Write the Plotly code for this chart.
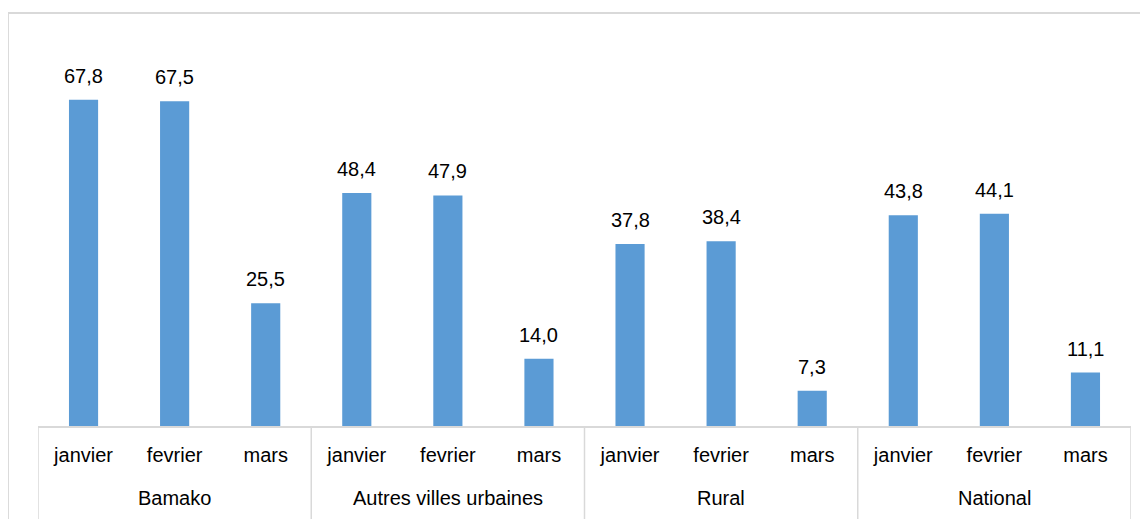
import plotly.graph_objects as go

regions = ["Bamako", "Autres villes urbaines", "Rural", "National"]
months = ["janvier", "fevrier", "mars"]
values = [67.8, 67.5, 25.5,
          48.4, 47.9, 14.0,
          37.8, 38.4, 7.3,
          43.8, 44.1, 11.1]

n_m = len(months)
pos = list(range(len(values)))
inner = [months[i % n_m] for i in pos]
labels = [f"{v:.1f}".replace(".", ",") for v in values]

font_family = "Liberation Sans Narrow, Arial Narrow, Liberation Sans, Arial, sans-serif"
grey = "#d9d9d9"

fig = go.Figure()
fig.add_trace(go.Bar(
    x=pos, y=values,
    marker_color="#5b9bd5", marker_line_width=0,
    width=0.32, hoverinfo="y",
))

annotations = []
# value labels above bars
for x, v, t in zip(pos, values, labels):
    annotations.append(dict(x=x, y=v, xref="x", yref="y", text=t, showarrow=False,
                            yanchor="bottom", yshift=11,
                            font=dict(size=20, color="#000000")))
# group labels
for g, r in enumerate(regions):
    annotations.append(dict(x=g * n_m + (n_m - 1) / 2, y=-0.187, xref="x", yref="paper",
                            text=r, showarrow=False, yanchor="middle",
                            font=dict(size=20, color="#000000")))

# group dividers
shapes = [dict(type="rect", xref="paper", yref="paper",
               x0=-0.0275, x1=1.03, y0=-0.4, y1=1.073,
               line=dict(color=grey, width=2), layer="below")]
for g in range(len(regions) + 1):
    xb = g * n_m - 0.5
    shapes.append(dict(type="line", xref="x", yref="paper", x0=xb, x1=xb, y0=0, y1=-0.4,
                       line=dict(color=grey, width=1.5)))

fig.update_layout(
    width=1140, height=511,
    margin=dict(l=30, r=17, t=33, b=93, autoexpand=False),
    plot_bgcolor="white", paper_bgcolor="white",
    showlegend=False,
    font=dict(family=font_family, size=20, color="#000000"),
    xaxis=dict(range=[-0.5, len(values) - 0.5], tickvals=pos, ticktext=inner,
               showline=True, linecolor=grey, linewidth=1.5, showgrid=False,
               zeroline=False, ticks="", ticklabelstandoff=10, tickfont=dict(size=20)),
    yaxis=dict(range=[0, 80], visible=False, showgrid=False),
    annotations=annotations,
    shapes=shapes,
)

fig.write_html("out.html")
